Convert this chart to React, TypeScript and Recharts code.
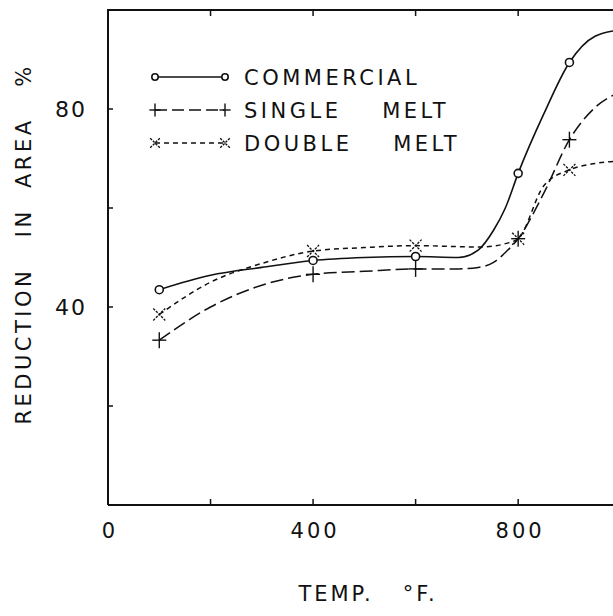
import { Line, LineChart, XAxis, YAxis } from "recharts";

// temperatures (°F); the drawn markers sit at MARKED_TEMPS
const TEMPS = [100, 200, 300, 400, 500, 600, 683, 722, 752, 775, 800, 850, 900, 950, 1000];
const MARKED_TEMPS = [100, 400, 600, 800, 900];

// reduction in area (%)
const COMMERCIAL = [43.5, 46.4, 48, 49.4, 50, 50.2, 50, 51.5, 55.5, 60, 67, 79, 89.4, 94.7, 96];
const SINGLE_MELT = [33.3, 40, 44.4, 46.6, 47.2, 47.7, 47.7, 48, 49, 51, 53.8, 63, 73.8, 80.3, 83.5];
const DOUBLE_MELT = [38.5, 45, 48.8, 51.3, 52, 52.4, 52.2, 52.1, 52.3, 52.8, 53.8, 64.5, 67.7, 69, 69.5];

const X_TICKS = [0, 200, 400, 600, 800];
const X_LABELED = [0, 400, 800];
const Y_TICKS = [0, 20, 40, 60, 80, 100];
const Y_LABELED = [40, 80];
const X_MAX = 985;

const W = 613;
const H = 616;
const PLOT_TOP = 10;
const PLOT_LEFT = 108;

const INK = "#111";
const FONT = "'DejaVu Sans', sans-serif";

const data = TEMPS.map((temp, i) => ({
  temp,
  commercial: COMMERCIAL[i],
  single: SINGLE_MELT[i],
  double: DOUBLE_MELT[i],
}));

type Kind = "circle" | "plus" | "cross";

function Marker({ kind, cx, cy, small }: { kind: Kind; cx: number; cy: number; small?: boolean }) {
  const s = small ? 0.8 : 1;
  if (kind === "circle")
    return <circle cx={cx} cy={cy} r={4 * s} fill="#fff" stroke={INK} strokeWidth={1.6} />;
  if (kind === "plus")
    return (
      <g stroke={INK} strokeWidth={1.4}>
        <line x1={cx - 7 * s} y1={cy} x2={cx + 7 * s} y2={cy} />
        <line x1={cx} y1={cy - 8 * s} x2={cx} y2={cy + 8 * s} />
      </g>
    );
  return (
    <g stroke={INK} strokeWidth={1.3} strokeDasharray="2.5 1.2">
      <line x1={cx - 6 * s} y1={cy - 6 * s} x2={cx + 6 * s} y2={cy + 6 * s} />
      <line x1={cx - 6 * s} y1={cy + 6 * s} x2={cx + 6 * s} y2={cy - 6 * s} />
    </g>
  );
}

const dotFor = (kind: Kind) => (props: any) => {
  const { cx, cy, payload, index } = props;
  if (!MARKED_TEMPS.includes(payload.temp) || cx > W) return <g key={`d${index}`} />;
  return (
    <g key={`d${index}`}>
      <Marker kind={kind} cx={cx} cy={cy} />
    </g>
  );
};

function XTick({ x, y, payload }: any) {
  const v = payload.value;
  return (
    <g>
      <line x1={x} y1={y} x2={x} y2={y - 6} stroke={INK} strokeWidth={1.5} />
      {X_LABELED.includes(v) && (
        <text x={x + 2} y={y + 33} textAnchor="middle" fontSize={21} letterSpacing={3} fill={INK} fontFamily={FONT}>
          {v}
        </text>
      )}
    </g>
  );
}

function YTick({ x, y, payload }: any) {
  const v = payload.value;
  return (
    <g>
      <line x1={x} y1={y} x2={x + 5} y2={y} stroke={INK} strokeWidth={1.5} />
      {Y_LABELED.includes(v) && (
        <text x={x - 21} y={y + 8} textAnchor="end" fontSize={22} letterSpacing={2} fill={INK} fontFamily={FONT}>
          {v}
        </text>
      )}
    </g>
  );
}

// top frame line with short downward ticks, on the same scale as the x axis
function TopFrame() {
  const sx = (t: number) => PLOT_LEFT + (t / X_MAX) * (W - PLOT_LEFT);
  return (
    <svg
      width={W}
      height={30}
      style={{ position: "absolute", left: 0, top: 0, overflow: "visible", pointerEvents: "none" }}
    >
      <line x1={PLOT_LEFT - 1} y1={PLOT_TOP} x2={W} y2={PLOT_TOP} stroke={INK} strokeWidth={2} />
      {X_TICKS.filter((t) => t > 0).map((t) => (
        <line key={t} x1={sx(t)} y1={PLOT_TOP} x2={sx(t)} y2={PLOT_TOP + 6} stroke={INK} strokeWidth={1.5} />
      ))}
    </svg>
  );
}

const LEGEND_ROWS: { kind: Kind; dash?: string; label: string }[] = [
  { kind: "circle", label: "COMMERCIAL" },
  { kind: "plus", dash: "12 5", label: "SINGLE    MELT" },
  { kind: "cross", dash: "5 4", label: "DOUBLE    MELT" },
];

function LegendBox() {
  return (
    <svg
      width={330}
      height={100}
      style={{ position: "absolute", left: 148, top: 62, overflow: "visible" }}
    >
      {LEGEND_ROWS.map((r, i) => {
        const cy = 15 + i * 33;
        return (
          <g key={r.label}>
            <line x1={7} y1={cy} x2={76} y2={cy} stroke={INK} strokeWidth={1.5} strokeDasharray={r.dash} />
            <Marker kind={r.kind} cx={7} cy={cy} small />
            <Marker kind={r.kind} cx={77} cy={cy} small />
            <text
              x={96}
              y={cy + 8}
              fontSize={21}
              letterSpacing={3.5}
              fill={INK}
              fontFamily={FONT}
              style={{ whiteSpace: "pre" }}
            >
              {r.label}
            </text>
          </g>
        );
      })}
    </svg>
  );
}

export default function App() {
  return (
    <div style={{ position: "fixed", left: 0, top: 0, width: W, height: H, background: "#fff" }}>
      <LineChart width={W} height={H} data={data} margin={{ top: PLOT_TOP, right: 0, left: 0, bottom: 0 }}>
        <XAxis
          dataKey="temp"
          type="number"
          domain={[0, X_MAX]}
          allowDataOverflow
          ticks={X_TICKS}
          interval={0}
          tickLine={false}
          tickSize={0}
          tickMargin={0}
          tick={<XTick />}
          height={111}
          axisLine={{ stroke: INK, strokeWidth: 2 }}
          label={() => (
            <text
              x={368}
              y={601}
              textAnchor="middle"
              fontSize={21}
              letterSpacing={3}
              fill={INK}
              fontFamily={FONT}
              style={{ whiteSpace: "pre" }}
            >
              {"TEMP.   °F."}
            </text>
          )}
        />
        <YAxis
          type="number"
          domain={[0, 100]}
          ticks={Y_TICKS}
          interval={0}
          width={PLOT_LEFT}
          tickLine={false}
          tickSize={0}
          tickMargin={0}
          tick={<YTick />}
          axisLine={{ stroke: INK, strokeWidth: 2 }}
          label={() => (
            <text
              x={0}
              y={0}
              transform="translate(31 244) rotate(-90)"
              textAnchor="middle"
              fontSize={21}
              letterSpacing={3.5}
              fill={INK}
              fontFamily={FONT}
              style={{ whiteSpace: "pre" }}
            >
              {"REDUCTION   IN  AREA   %"}
            </text>
          )}
        />
        <Line
          dataKey="commercial"
          type="monotone"
          stroke={INK}
          strokeWidth={1.6}
          dot={dotFor("circle")}
          isAnimationActive={false}
        />
        <Line
          dataKey="single"
          type="monotone"
          stroke={INK}
          strokeWidth={1.5}
          strokeDasharray="13 5"
          dot={dotFor("plus")}
          isAnimationActive={false}
        />
        <Line
          dataKey="double"
          type="monotone"
          stroke={INK}
          strokeWidth={1.5}
          strokeDasharray="5 4"
          dot={dotFor("cross")}
          isAnimationActive={false}
        />
      </LineChart>
      <TopFrame />
      <LegendBox />
    </div>
  );
}
